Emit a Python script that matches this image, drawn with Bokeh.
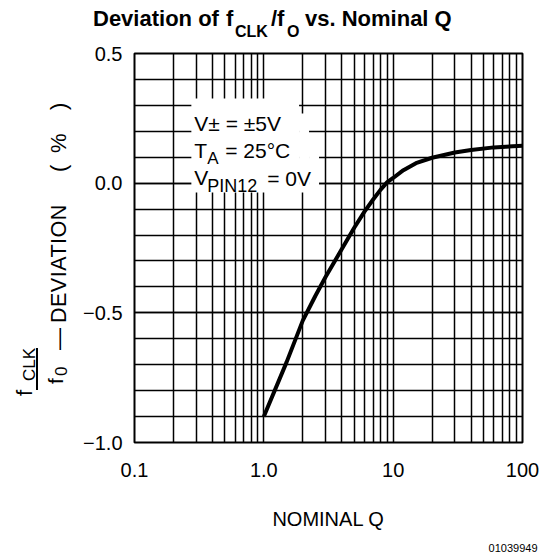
import numpy as np
from bokeh.plotting import figure
from bokeh.models import Range1d, FixedTicker, Label, BoxAnnotation, Div
from bokeh.layouts import column, row
from bokeh.embed import file_html
from bokeh.resources import INLINE

# ---- data ----
q_values = [1.0, 1.5, 2.0, 2.5, 3.0, 4.0, 5.0, 6.0, 7.0, 8.0, 9.0, 10.0, 12.0, 15.0, 20.0, 30.0, 40.0, 60.0, 100.0]
deviation = [-0.90, -0.69, -0.53, -0.435, -0.362, -0.255, -0.172, -0.11, -0.063, -0.025, 0.004,
             0.02, 0.05, 0.077, 0.098, 0.118, 0.128, 0.138, 0.144]
x_major = [0.1, 1, 10, 100]
x_labels = ["0.1", "1.0", "10", "100"]
y_major = [-1.0, -0.5, 0.0, 0.5]
y_labels = ["\u22121.0", "\u22120.5", "0.0", "0.5"]

# ---- layout (page pixels) ----
W, H = 547, 552
TITLE_H = 40          # height of the title strip
YLAB_W = 80           # width of the y-label strip
FL, FR, FT, FB = 133, 522, 53, 442   # frame edges in page pixels
X0, X1 = 0.1, 100.0
Y0, Y1 = -1.0, 0.5
FONT = "Liberation Sans"
ASC = 0.8465          # baseline position inside a line-height:1 box (Liberation Sans)


def dx(px):
    lo, hi = np.log10(X0), np.log10(X1)
    return float(10 ** (lo + (px - FL) / (FR - FL) * (hi - lo)))


def dy(py):
    return float(Y1 - (py - FT) / (FB - FT) * (Y1 - Y0))


PW, PH = W - YLAB_W, H - TITLE_H
p = figure(width=PW, height=PH, x_axis_type="log",
           x_range=Range1d(X0, X1), y_range=Range1d(Y0, Y1),
           output_backend="svg", toolbar_location=None,
           min_border_left=FL - YLAB_W, min_border_right=W - FR,
           min_border_top=FT - TITLE_H, min_border_bottom=H - FB)
p.background_fill_color = "white"
p.border_fill_color = "white"
p.outline_line_color = "black"
p.outline_line_width = 2

x_minor = [m * d for d in (0.1, 1, 10) for m in range(2, 10)]
y_minor = [round(-1.0 + 0.1 * i, 1) for i in range(16)]

p.xaxis.ticker = FixedTicker(ticks=x_major, minor_ticks=x_minor)
p.yaxis.ticker = FixedTicker(ticks=y_major, minor_ticks=y_minor)
p.xaxis.major_label_overrides = {t: l for t, l in zip(x_major, x_labels)}
p.yaxis.major_label_overrides = {t: l for t, l in zip(y_major, y_labels)}

for ax in (p.xaxis, p.yaxis):
    ax.axis_line_color = None
    ax.major_tick_line_color = None
    ax.minor_tick_line_color = None
    ax.major_tick_out = 0
    ax.major_tick_in = 0
    ax.major_label_text_font = FONT
    ax.major_label_text_font_size = "20px"
    ax.major_label_text_color = "black"

p.xaxis.major_label_standoff = 16
p.yaxis.major_label_standoff = 8
p.xaxis.axis_label = "NOMINAL Q"
p.xaxis.axis_label_text_font = FONT
p.xaxis.axis_label_text_font_size = "20px"
p.xaxis.axis_label_text_font_style = "normal"
p.xaxis.axis_label_text_color = "black"
p.xaxis.axis_label_standoff = 28

for g in (p.xgrid, p.ygrid):
    g.grid_line_color = "black"
    g.grid_line_width = 1.5
    g.minor_grid_line_color = "black"
    g.minor_grid_line_width = 1.5

p.line(q_values, deviation, line_color="black", line_width=4, line_join="round")

# white box behind the conditions text
for l, r, t, b in [(190, 298, 98, 192), (298, 308, 113, 192), (308, 318, 140, 192)]:
    p.add_layout(BoxAnnotation(left=dx(l), right=dx(r), top=dy(t), bottom=dy(b),
                               fill_color="white", fill_alpha=1.0, line_color=None))


def lab(text, px, py, size, align="left"):
    p.add_layout(Label(x=dx(px), y=dy(py), text=text, text_font=FONT,
                       text_font_size=f"{size}px", text_align=align,
                       text_baseline="alphabetic", text_color="black"))


# conditions (inside the frame)
lab("V\u00b1 = \u00b15V", 193, 123, 21)
lab("T", 193, 150, 21)
lab("A", 206, 158, 17)
lab("= 25\u00b0C", 224, 150, 21)
lab("V", 193, 177, 21)
lab("PIN12", 206, 185, 18)
lab("= 0V", 266, 178, 21)

# figure number, in the bottom panel (canvas units of the figure)
p.add_layout(Label(x=537 - YLAB_W, y=547 - TITLE_H, x_units="canvas", y_units="canvas",
                   text="01039949", text_font=FONT, text_font_size="11px",
                   text_align="right", text_baseline="alphabetic", text_color="black"),
             "below")


# ---- HTML strips for the title and the rotated y-axis label ----
def span(text, left, top, size, bold=False, rotate=False, extra=""):
    st = (f"position:absolute;left:{left:.1f}px;top:{top:.1f}px;margin:0;padding:0;"
          f"font-family:'{FONT}';font-size:{size}px;line-height:1;white-space:nowrap;"
          f"color:black;font-weight:{'bold' if bold else 'normal'};")
    if rotate:
        st += "transform:rotate(-90deg);transform-origin:0 0;"
    return f'<span style="{st}{extra}">{text}</span>'


def hpiece(text, x, base, size, bold=True):
    return span(text, x, base - ASC * size, size, bold=bold)


def vpiece(text, base_x, start_y, size, extra=""):
    # rotated text reading upwards; base_x = baseline x, start_y = page y where text starts
    return span(text, base_x - ASC * size, start_y - TITLE_H, size, rotate=True, extra=extra)


title_parts = [
    hpiece("Deviation of", 93, 27, 22),
    hpiece("f", 226, 27, 22),
    hpiece("CLK", 235, 37, 16),
    hpiece("/f", 271, 27, 22),
    hpiece("O", 287, 37, 16),
    hpiece("vs. Nominal Q", 305, 27, 22),
]
title_html = (f'<div style="position:relative;width:{W}px;height:{TITLE_H}px;overflow:visible;">'
              + "".join(title_parts) + "</div>")

bar = (f'<div style="position:absolute;left:36px;top:{348 - TITLE_H}px;width:2px;height:42px;'
       f'background:black;"></div>')
ylab_parts = [
    vpiece("f", 33, 396, 22),
    vpiece("CLK", 35, 381, 17),
    bar,
    vpiece("f", 63, 384, 21),
    vpiece("0", 67, 376, 17),
    vpiece("\u2014", 67, 350, 22),
    vpiece("DEVIATION", 67, 323, 21.5, extra="letter-spacing:0.5px;"),
    vpiece("(", 67, 172, 22),
    vpiece("%", 67, 153, 22),
    vpiece(")", 67, 110, 22),
]
ylab_html = (f'<div style="position:relative;width:{YLAB_W}px;height:{PH}px;overflow:visible;">'
             + "".join(ylab_parts) + "</div>")

title_div = Div(text=title_html, width=W, height=TITLE_H, margin=0)
ylab_div = Div(text=ylab_html, width=YLAB_W, height=PH, margin=0)

layout = column(title_div, row(ylab_div, p, spacing=0), spacing=0)

open("out.html", "w").write(file_html(layout, INLINE))
